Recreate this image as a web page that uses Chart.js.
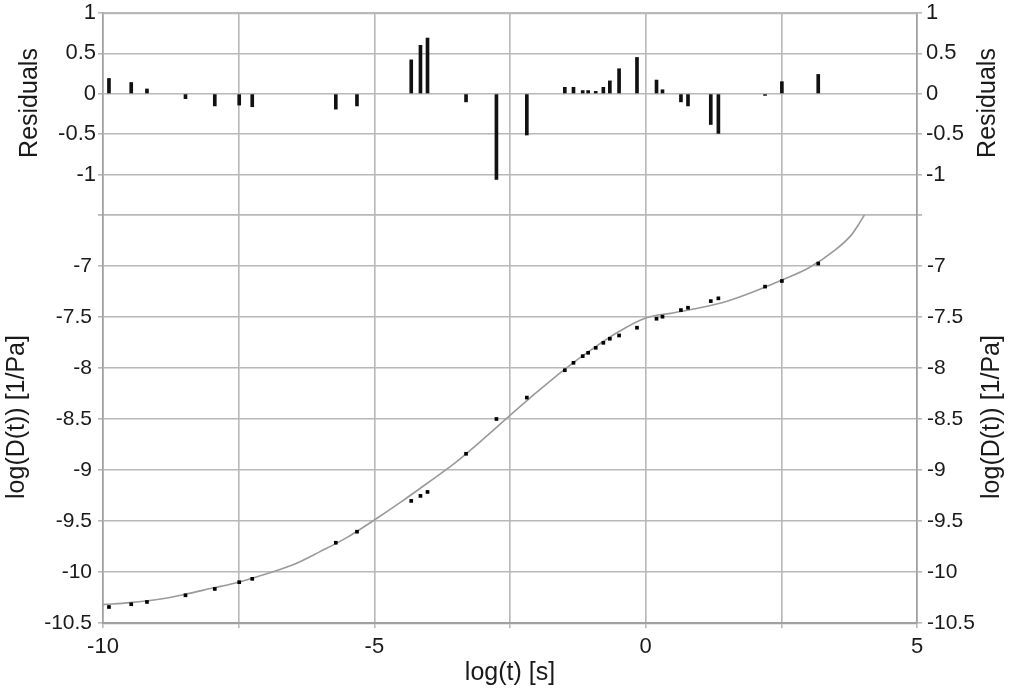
<!DOCTYPE html>
<html>
<head>
<meta charset="utf-8">
<script src="https://cdn.jsdelivr.net/npm/chart.js@4.4.1/dist/chart.umd.min.js"></script>
<style>
  html, body { margin: 0; padding: 0; background: #fff; }
</style>
</head>
<body>
<canvas id="chart" width="1013" height="689"></canvas>
<script>
// measured points: log(t), log(D(t)) and the residual bar for each one
const logT = [-9.89, -9.48, -9.19, -8.48, -7.94, -7.49, -7.25, -5.71, -5.32, -4.32, -4.15, -4.02,
              -3.31, -2.75, -2.19, -1.49, -1.33, -1.16, -1.06, -0.92, -0.78, -0.66, -0.49, -0.16,
              0.20, 0.31, 0.65, 0.78, 1.20, 1.34, 2.20, 2.51, 3.18];
const logD = [-10.343, -10.316, -10.294, -10.228, -10.166, -10.100, -10.067, -9.713, -9.605, -9.303, -9.254, -9.215,
              -8.841, -8.50, -8.29, -8.022, -7.949, -7.884, -7.851, -7.802, -7.753, -7.713, -7.681, -7.605,
              -7.517, -7.497, -7.432, -7.409, -7.344, -7.317, -7.202, -7.147, -6.976];
const residuals = [0.19, 0.14, 0.06, -0.06, -0.15, -0.14, -0.16, -0.19, -0.15, 0.42, 0.60, 0.69,
                   -0.10, -1.06, -0.51, 0.08, 0.08, 0.04, 0.04, 0.03, 0.08, 0.16, 0.31, 0.45,
                   0.17, 0.05, -0.10, -0.15, -0.38, -0.49, -0.02, 0.15, 0.24];

// fitted curve
const fitT = [-10, -9.5, -9, -8.5, -8, -7.5, -7, -6.5, -6, -5.5, -5, -4.5, -4, -3.5, -3, -2.5, -2, -1.5, -1, -0.5,
              0, 0.5, 1, 1.5, 2, 2.5, 3, 3.5, 3.8, 3.95, 4.03];
const fitD = [-10.32, -10.30, -10.27, -10.22, -10.16, -10.10, -10.02, -9.93, -9.80, -9.66, -9.49, -9.31, -9.12, -8.925, -8.70, -8.465, -8.235, -8.015, -7.82, -7.645,
              -7.51, -7.46, -7.41, -7.345, -7.25, -7.14, -7.02, -6.84, -6.69, -6.57, -6.50];

// ticks / grid
const xGridValues = [-10, -7.5, -5, -2.5, 0, 2.5, 5];
const xTickLabels = [-10, -5, 0, 5];
const resTicks = [-1.5, -1, -0.5, 0, 0.5, 1];
const resTickLabels = [-1, -0.5, 0, 0.5, 1];
const mainTicks = [-10.5, -10, -9.5, -9, -8.5, -8, -7.5, -7, -6.5];
const mainTickLabels = [-10.5, -10, -9.5, -9, -8.5, -8, -7.5, -7];

const TEXT = '#1a1a1a';
const GRID = '#b8b8b8';
const AXIS = '#a0a0a0';

Chart.defaults.font.family = '"Liberation Sans", Arial, sans-serif';
Chart.defaults.color = TEXT;

const gridOpts = { color: GRID, lineWidth: 1.6, tickLength: 5, tickColor: GRID, tickWidth: 1.6, offset: false };

function yScale(opts) {
    const { pos, ticks, labels, min, max, weight, stackWeight, width, pad, size } = opts;
    return {
        type: 'linear',
        position: pos,
        stack: 'panels',
        stackWeight: stackWeight,
        weight: weight,
        min: min,
        max: max,
        afterBuildTicks: s => { s.ticks = ticks.map(v => ({ value: v })); },
        afterFit: s => {
            s.width = width;
            // keep the plot area at the layout padding, labels may overhang
            s.paddingTop = 0;
            s.paddingBottom = 0;
        },
        grid: pos === 'left' ? gridOpts : { ...gridOpts, drawOnChartArea: false },
        border: { color: AXIS, width: 1.6 },
        ticks: {
            autoSkip: false,
            padding: pad,
            color: TEXT,
            font: { size: size },
            callback: v => labels.includes(v) ? String(v) : ''
        }
    };
}

// grid line along the top edge (value 1 of the residual panel)
const topEdge = {
    id: 'topEdge',
    beforeDatasetsDraw(chart) {
        const { ctx, chartArea } = chart;
        ctx.save();
        ctx.strokeStyle = GRID;
        ctx.lineWidth = 1.6;
        ctx.beginPath();
        ctx.moveTo(chartArea.left, chartArea.top + 0.5);
        ctx.lineTo(chartArea.right, chartArea.top + 0.5);
        ctx.stroke();
        ctx.restore();
    }
};

const axisTitles = {
    id: 'axisTitles',
    afterDraw(chart) {
        const ctx = chart.ctx;
        const s = chart.scales;
        ctx.save();
        ctx.fillStyle = TEXT;
        ctx.font = '25px "Liberation Sans", Arial, sans-serif';
        ctx.textAlign = 'center';
        ctx.textBaseline = 'alphabetic';
        const vtext = (txt, x, y) => {
            ctx.save();
            ctx.translate(x, y);
            ctx.rotate(-Math.PI / 2);
            ctx.fillText(txt, 0, 0);
            ctx.restore();
        };
        const resMid = s.yResL.top + 90;
        const mainMid = (s.yMainL.top + s.yMainL.bottom) / 2 - 2;
        vtext('Residuals', 37, resMid);
        vtext('Residuals', 995, resMid);
        vtext('log(D(t)) [1/Pa]', 24, mainMid);
        vtext('log(D(t)) [1/Pa]', 999, mainMid);
        ctx.fillText('log(t) [s]', (chart.chartArea.left + chart.chartArea.right) / 2, 680);
        ctx.restore();
    }
};

new Chart(document.getElementById('chart'), {
    type: 'scatter',
    data: {
        datasets: [
            {
                type: 'scatter',
                label: 'data',
                data: logT.map((t, i) => ({ x: t, y: logD[i] })),
                yAxisID: 'yMainL',
                pointStyle: 'rect',
                pointRadius: 2.6,
                borderWidth: 0,
                backgroundColor: '#000',
                order: 0
            },
            {
                type: 'line',
                label: 'fit',
                data: fitT.map((t, i) => ({ x: t, y: fitD[i] })),
                yAxisID: 'yMainL',
                borderColor: '#9a9a9a',
                borderWidth: 1.6,
                pointRadius: 0,
                fill: false,
                cubicInterpolationMode: 'monotone',
                order: 1
            },
            {
                type: 'bar',
                label: 'residuals',
                data: logT.map((t, i) => ({ x: t, y: residuals[i] })),
                yAxisID: 'yResL',
                backgroundColor: '#111',
                barThickness: 3,
                order: 2
            }
        ]
    },
    options: {
        responsive: false,
        animation: false,
        layout: { padding: { top: 13, left: 0, right: 0, bottom: 0 } },
        plugins: { legend: { display: false }, tooltip: { enabled: false } },
        scales: {
            x: {
                type: 'linear',
                position: 'bottom',
                offset: false,
                min: -10,
                max: 5,
                afterBuildTicks: s => { s.ticks = xGridValues.map(v => ({ value: v })); },
                afterFit: s => { s.height = 66; },
                grid: gridOpts,
                border: { color: AXIS, width: 2.2 },
                ticks: {
                    autoSkip: false,
                    maxRotation: 0,
                    padding: 6,
                    color: TEXT,
                    font: { size: 22 },
                    callback: v => xTickLabels.includes(v) ? String(v) : ''
                }
            },
            yMainL: yScale({ pos: 'left', ticks: mainTicks, labels: mainTickLabels, min: -10.5, max: -6.5,
                             weight: 0, stackWeight: 408, width: 103, pad: 6, size: 21 }),
            yResL: yScale({ pos: 'left', ticks: resTicks, labels: resTickLabels, min: -1.5, max: 1,
                            weight: 1, stackWeight: 202, width: 103, pad: 2, size: 22 }),
            yResR: yScale({ pos: 'right', ticks: resTicks, labels: resTickLabels, min: -1.5, max: 1,
                            weight: 0, stackWeight: 202, width: 96, pad: 4, size: 22 }),
            yMainR: yScale({ pos: 'right', ticks: mainTicks, labels: mainTickLabels, min: -10.5, max: -6.5,
                             weight: 1, stackWeight: 408, width: 96, pad: 5, size: 21 })
        }
    },
    plugins: [topEdge, axisTitles]
});
</script>
</body>
</html>
